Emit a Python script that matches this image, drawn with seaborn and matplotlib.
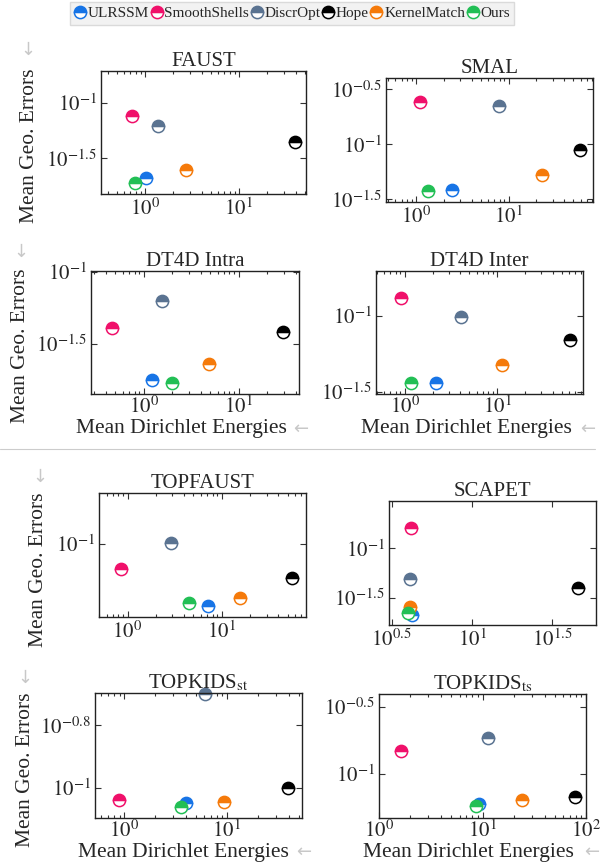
import numpy as np
import pandas as pd
import matplotlib
matplotlib.use('Agg')
import matplotlib.pyplot as plt
from matplotlib.ticker import FixedLocator, FuncFormatter, LogLocator, NullLocator, NullFormatter
from matplotlib.lines import Line2D
import seaborn as sns

methods = ['ULRSSM', 'SmoothShells', 'DiscrOpt', 'Hope', 'KernelMatch', 'Ours']
colors = ['#1774e6', '#f0106a', '#5a7391', '#000000', '#f57a0a', '#22bf55']

# mean Dirichlet energy (x) and mean geodesic error (y) per dataset, in method order
faust_x = [1.02, 0.727, 1.36, 39.1, 2.71, 0.777]
faust_y = [0.0212, 0.0759, 0.0618, 0.0446, 0.0248, 0.0189]
smal_x = [2.47, 1.11, 7.92, 59.8, 23.1, 1.34]
smal_y = [0.0386, 0.243, 0.222, 0.0888, 0.053, 0.038]
dt4d_intra_x = [1.23, 0.464, 1.54, 29.3, 4.87, 1.97]
dt4d_intra_y = [0.0177, 0.0408, 0.0625, 0.0379, 0.0227, 0.0167]
dt4d_inter_x = [2.19, 0.92, 4.05, 60.8, 11.2, 1.18]
dt4d_inter_y = [0.0359, 0.131, 0.098, 0.0693, 0.0477, 0.0359]
topfaust_x = [7.12, 0.851, 2.91, 55.4, 15.7, 4.48]
topfaust_y = [0.0406, 0.0692, 0.101, 0.0608, 0.0456, 0.0424]
scapet_x = [4.2, 4.17, 4.11, 45.5, 4.13, 4.02]
scapet_y = [0.0211, 0.162, 0.0489, 0.0399, 0.0253, 0.022]
topkids_st_x = [4.02, 0.88, 6.1, 39.5, 9.48, 3.61]
topkids_st_y = [0.0895, 0.0915, 0.2, 0.1, 0.0899, 0.0871]
topkids_ts_x = [9.33, 1.64, 11.3, 77.6, 24.3, 8.67]
topkids_ts_y = [0.0591, 0.148, 0.184, 0.0667, 0.0637, 0.0568]

titles = ['FAUST', 'SMAL', 'DT4D Intra', 'DT4D Inter', 'TOPFAUST', 'SCAPET',
          r'TOPKIDS$_{\mathrm{st}}$', r'TOPKIDS$_{\mathrm{ts}}$']
xs = [faust_x, smal_x, dt4d_intra_x, dt4d_inter_x, topfaust_x, scapet_x, topkids_st_x, topkids_ts_x]
ys = [faust_y, smal_y, dt4d_intra_y, dt4d_inter_y, topfaust_y, scapet_y, topkids_st_y, topkids_ts_y]

# tick exponents
xticks = [[0, 1], [0, 1], [0, 1], [0, 1], [0, 1], [0.5, 1, 1.5], [0, 1], [0, 1, 2]]
yticks = [[-1, -1.5], [-0.5, -1, -1.5], [-1, -1.5], [-1, -1.5], [-1], [-1, -1.5], [-0.8, -1], [-0.5, -1]]

# layout: axes boxes in pixels (left, right, top, bottom) and log10 limits
boxes = [(101, 306, 71, 194), (386, 593, 78, 202),
         (91, 299, 271, 394), (376, 583, 271, 394),
         (99, 306, 493, 617), (389, 596, 501, 625),
         (95, 302, 693, 818), (379, 586, 694, 818)]
xlims = [(-0.468, 1.713), (-0.324, 1.913), (-0.555, 1.635), (-0.31, 1.927),
         (-0.303, 1.895), (0.483, 1.772), (-0.285, 1.733), (0.0, 2.0)]
ylims = [(-1.82, -0.715), (-1.524, -0.398), (-1.851, -0.993), (-1.515, -0.703),
         (-1.458, -0.683), (-1.774, -0.521), (-1.096, -0.697), (-1.333, -0.403)]

sns.set_theme(style='ticks')
plt.rcParams['font.family'] = ['Liberation Serif', 'DejaVu Sans']
plt.rcParams['mathtext.fontset'] = 'stix'
plt.rcParams['axes.edgecolor'] = '#222222'
plt.rcParams['axes.linewidth'] = 1.0

W, H = 611, 863
fig = plt.figure(figsize=(W / 100, H / 100), dpi=100)


def px_rect(l, r, t, b):
    return [l / W, 1 - b / H, (r - l) / W, (b - t) / H]


def pow_label(e):
    e = round(e, 2)
    if float(e).is_integer():
        return r'$10^{%d}$' % int(e)
    return r'$10^{%g}$' % e


handles = None
for i in range(8):
    ax = fig.add_axes(px_rect(*boxes[i]))
    df = pd.DataFrame({'method': methods, 'energy': xs[i], 'error': ys[i]})
    sns.lineplot(data=df, x='energy', y='error', hue='method', hue_order=methods,
                 palette=colors, marker='o', linestyle='', markersize=8.8,
                 fillstyle='top', markerfacecoloralt='white', markeredgewidth=1.1,
                 errorbar=None, legend=False, sort=False, ax=ax)
    for line in ax.lines:
        line.set_markeredgecolor(line.get_color())
        line.set_markerfacecolor(line.get_color())
        line.set_clip_on(False)
    if handles is None:
        handles = list(ax.lines)

    ax.set_xscale('log')
    ax.set_yscale('log')
    ax.set_xlim(10 ** xlims[i][0], 10 ** xlims[i][1])
    ax.set_ylim(10 ** ylims[i][0], 10 ** ylims[i][1])

    ax.xaxis.set_major_locator(FixedLocator([10 ** v for v in xticks[i]]))
    ax.xaxis.set_major_formatter(FuncFormatter(lambda v, p: pow_label(np.log10(v))))
    if i == 5:
        ax.xaxis.set_minor_locator(NullLocator())
    else:
        ax.xaxis.set_minor_locator(LogLocator(base=10, subs=range(2, 10), numticks=20))
    ax.xaxis.set_minor_formatter(NullFormatter())
    ax.yaxis.set_major_locator(FixedLocator([10 ** v for v in yticks[i]]))
    ax.yaxis.set_major_formatter(FuncFormatter(lambda v, p: pow_label(np.log10(v))))
    ax.yaxis.set_minor_locator(NullLocator())

    ax.tick_params(which='both', direction='in', top=True, right=True,
                   color='#333333', width=0.8, labelsize=15, pad=3)
    ax.tick_params(which='major', length=4)
    ax.tick_params(which='minor', length=2.3)
    if i in (2, 3, 6, 7):
        ax.tick_params(axis='x', pad=1.5)
    ax.set_xlabel('')
    ax.set_ylabel('')
    ax.set_title(titles[i], fontsize=15, pad=2)

fig.legend(handles, methods, loc='upper center', bbox_to_anchor=(292 / W, 1 - 2 / H),
           ncol=6, frameon=True, fontsize=11, handlelength=0.8, handletextpad=0.1,
           columnspacing=0.1, borderpad=0.3, borderaxespad=0, fancybox=False,
           facecolor='#f2f2f2', edgecolor='#dadada', framealpha=1)

arrow_c = '#c8c8c8'
arrow_fam = ['DejaVu Sans']

# y labels with arrows
for (lx, ly, axx, axy) in [(30, 146, 28, 50), (21, 346, 21, 252), (39, 570, 40, 477), (25, 770, 25, 678)]:
    fig.text(lx / W, 1 - ly / H, 'Mean Geo. Errors', rotation=90, ha='center', va='center', fontsize=15.5)
    fig.text(axx / W, 1 - axy / H, '\u2193', ha='center', va='center', fontsize=13, color=arrow_c, family=arrow_fam)

# x labels with arrows
for (lx, ly, axx) in [(181, 429, 301), (466, 429, 588), (183, 852, 304), (468, 852, 592)]:
    fig.text(lx / W, 1 - ly / H, 'Mean Dirichlet Energies', ha='center', va='center', fontsize=15.5)
    fig.text(axx / W, 1 - ly / H, '\u2190', ha='center', va='center', fontsize=13, color=arrow_c, family=arrow_fam)

fig.add_artist(Line2D([0, 595 / W], [1 - 449 / H, 1 - 449 / H], color='#cccccc', lw=0.8))

fig.savefig('out.png', dpi=100)
